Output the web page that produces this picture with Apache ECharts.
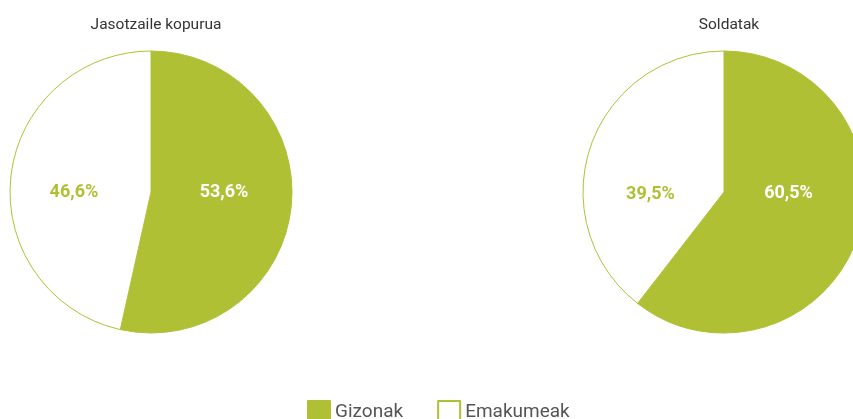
<!DOCTYPE html>
<html>
<head>
<meta charset="utf-8">
<script src="https://cdn.jsdelivr.net/npm/echarts@6/dist/echarts.min.js"></script>
<style>
  html, body { margin: 0; padding: 0; background: #fff; }
  #chart { width: 853px; height: 419px; }
</style>
</head>
<body>
<div id="chart"></div>
<script>
  var titles = ['Jasotzaile kopurua', 'Soldatak'];
  var categories = ['Gizonak', 'Emakumeak'];
  var recipients = [53.6, 46.6];
  var salaries = [60.5, 39.5];

  var green = '#b0c035';
  var font = 'Roboto, sans-serif';

  function fmt(p) {
    return p.value.toFixed(1).replace('.', ',') + '%';
  }

  function pieData(values, offsets) {
    return values.map(function (v, i) {
      var isMen = i === 0;
      return {
        name: categories[i],
        value: v,
        itemStyle: {
          color: isMen ? green : '#ffffff',
          borderColor: green,
          borderWidth: 1
        },
        label: {
          color: isMen ? '#ffffff' : green,
          offset: offsets[i]
        }
      };
    });
  }

  var chart = echarts.init(document.getElementById('chart'));
  chart.setOption({
    animation: false,
    title: [
      {
        text: titles[0],
        left: 151, top: 12,
        textAlign: 'center',
        textStyle: { fontFamily: font, fontSize: 15.5, fontWeight: 'normal', color: '#333' }
      },
      {
        text: titles[1],
        left: 724, top: 12,
        textAlign: 'center',
        textStyle: { fontFamily: font, fontSize: 15.5, fontWeight: 'normal', color: '#333' }
      }
    ],
    legend: {
      data: categories,
      left: 302,
      top: 395,
      itemWidth: 22,
      itemHeight: 22,
      itemGap: 34,
      icon: 'rect',
      textStyle: { fontFamily: font, fontSize: 19, color: '#555' }
    },
    series: [
      {
        type: 'pie',
        center: [151, 192],
        radius: 141,
        startAngle: 90,
        emphasis: { disabled: true },
        label: {
          show: true, position: 'inside', formatter: fmt,
          fontFamily: font, fontSize: 18, fontWeight: 'bold'
        },
        labelLine: { show: false },
        data: pieData(recipients, [[0, -8], [-4, 9]])
      },
      {
        type: 'pie',
        center: [724, 192],
        radius: 141,
        startAngle: 90,
        emphasis: { disabled: true },
        label: {
          show: true, position: 'inside', formatter: fmt,
          fontFamily: font, fontSize: 18, fontWeight: 'bold'
        },
        labelLine: { show: false },
        data: pieData(salaries, [[-5, -22], [-4, 26]])
      }
    ]
  });
</script>
</body>
</html>
